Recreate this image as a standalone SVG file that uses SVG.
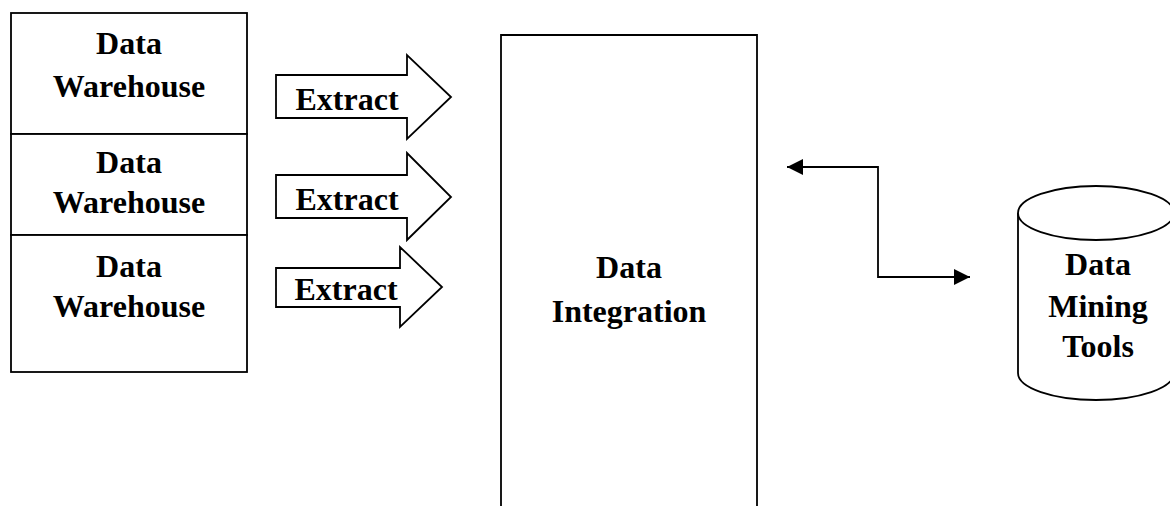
<svg xmlns="http://www.w3.org/2000/svg" width="1170" height="506" viewBox="0 0 1170 506">
<style>
.b{fill:#fff;stroke:#000;stroke-width:1.8}
.t{font-family:"Liberation Serif","Times New Roman",serif;font-weight:bold;font-size:32px;fill:#000;text-anchor:middle}
.c{fill:none;stroke:#000;stroke-width:1.8}
</style>
<defs>
<marker id="ah" viewBox="0 0 16 16" refX="16" refY="8" markerWidth="16" markerHeight="16" markerUnits="userSpaceOnUse" orient="auto-start-reverse">
<path d="M0,0 L16,8 L0,16 Z" fill="#000"/>
</marker>
</defs>
<rect width="1170" height="506" fill="#fff"/>
<g id="warehouse1">
<rect class="b" x="11" y="13" width="236" height="121"/>
<text class="t" x="129" y="54">Data</text>
<text class="t" x="129" y="97">Warehouse</text>
</g>
<g id="warehouse2">
<rect class="b" x="11" y="134" width="236" height="101"/>
<text class="t" x="129" y="173">Data</text>
<text class="t" x="129" y="213">Warehouse</text>
</g>
<g id="warehouse3">
<rect class="b" x="11" y="235" width="236" height="137"/>
<text class="t" x="129" y="277">Data</text>
<text class="t" x="129" y="317">Warehouse</text>
</g>
<g id="extract1">
<path class="b" d="M276,75 H407 V55 L451,97 L407,139 V118 H276 Z"/>
<text class="t" x="347" y="110">Extract</text>
</g>
<g id="extract2">
<path class="b" d="M276,175 H407 V153 L451,197 L407,240 V218 H276 Z"/>
<text class="t" x="347" y="210">Extract</text>
</g>
<g id="extract3">
<path class="b" d="M276,268 H400 V247 L442,287 L400,327 V307 H276 Z"/>
<text class="t" x="346" y="300">Extract</text>
</g>
<g id="integration">
<path class="b" d="M501,510 V35 H757 V510"/>
<text class="t" x="629" y="278">Data</text>
<text class="t" x="629" y="322">Integration</text>
</g>
<g id="miningtools">
<path class="b" d="M1018,213 V373 A78,27 0 0 0 1174,373 V213"/>
<ellipse class="b" cx="1096" cy="213" rx="78" ry="27"/>
<text class="t" x="1098" y="275">Data</text>
<text class="t" x="1098" y="317">Mining</text>
<text class="t" x="1098" y="357">Tools</text>
</g>
<g id="connectors">
<path class="c" d="M787,167 H878 V277 H970" marker-start="url(#ah)" marker-end="url(#ah)"/>
</g>
</svg>
